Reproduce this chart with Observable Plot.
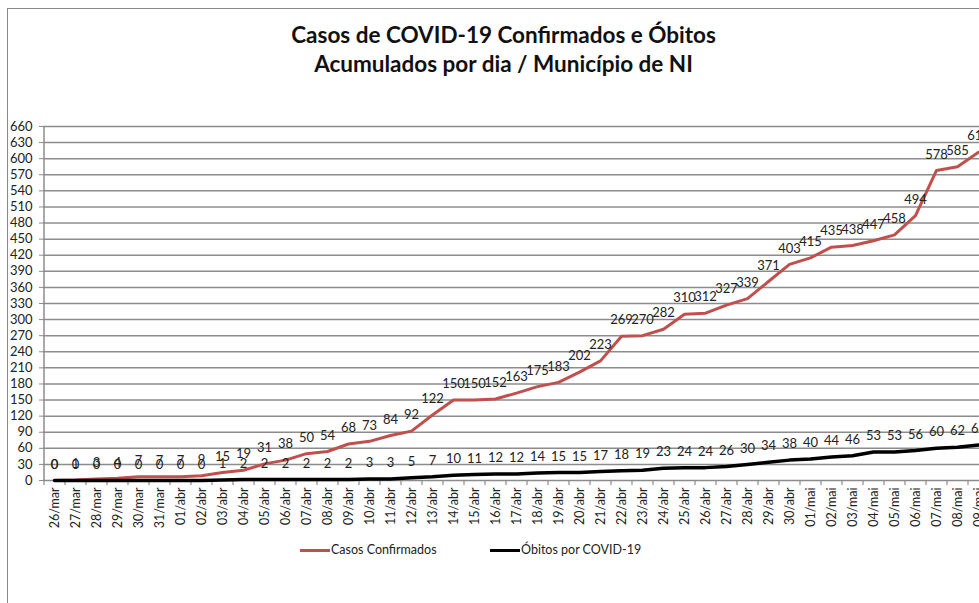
<!DOCTYPE html>
<html>
<head>
<meta charset="utf-8">
<script src="https://cdn.jsdelivr.net/npm/d3@7"></script>
<script src="https://cdn.jsdelivr.net/npm/@observablehq/plot@0.6"></script>
<style>
  html, body { margin: 0; padding: 0; background: #fff; overflow: hidden; }
  #wrap { position: relative; width: 979px; height: 603px; overflow: hidden; font-family: Lato, "Open Sans", sans-serif; }
  #border { position: absolute; left: 7px; top: 8px; width: 1200px; height: 800px; border-left: 1px solid #8a8a8a; border-top: 1px solid #8a8a8a; }
  #title { position: relative; height: 100px; box-sizing: border-box; padding-top: 20px; padding-left: 28px; text-align: center; font-weight: bold; font-size: 22.5px; line-height: 29px; color: #111; }
  #chart { position: relative; height: 440px; width: 990px; }
  #chart svg { max-width: none !important; }
  #legend { position: relative; height: 24px; font-size: 12.5px; color: #222; line-height: 20px; }
  .item { position: absolute; top: 0; display: flex; align-items: center; height: 20px; }
  .sw { display: inline-block; width: 30px; height: 3px; margin-right: 1px; }
</style>
</head>
<body>
<div id="wrap">
  <div id="border"></div>
  <div id="title">Casos de COVID-19 Confirmados e Óbitos<br>Acumulados por dia / Município de NI</div>
  <div id="chart"></div>
  <div id="legend"></div>
</div>
<script>
const dates = [
  "26/mar","27/mar","28/mar","29/mar","30/mar","31/mar",
  "01/abr","02/abr","03/abr","04/abr","05/abr","06/abr","07/abr","08/abr","09/abr","10/abr",
  "11/abr","12/abr","13/abr","14/abr","15/abr","16/abr","17/abr","18/abr","19/abr","20/abr",
  "21/abr","22/abr","23/abr","24/abr","25/abr","26/abr","27/abr","28/abr","29/abr","30/abr",
  "01/mai","02/mai","03/mai","04/mai","05/mai","06/mai","07/mai","08/mai","09/mai"
];
const casos = [0,1,3,4,7,7,7,9,15,19,31,38,50,54,68,73,84,92,122,150,150,152,163,175,183,202,223,269,270,282,310,312,327,339,371,403,415,435,438,447,458,494,578,585,612];
const obitos = [0,0,0,0,0,0,0,0,1,2,2,2,2,2,2,3,3,5,7,10,11,12,12,14,15,15,17,18,19,23,24,24,26,30,34,38,40,44,46,53,53,56,60,62,66];
const yTicks = d3.range(0, 661, 30);
const seriesNames = ["Casos Confirmados", "Óbitos por COVID-19"];
const seriesColors = ["#C0504D", "#000000"];

const rows = [];
dates.forEach((d, i) => {
  rows.push({date: d, value: casos[i], serie: seriesNames[0]});
  rows.push({date: d, value: obitos[i], serie: seriesNames[1]});
});
const casosRows = rows.filter(r => r.serie === seriesNames[0]);
const obitosRows = rows.filter(r => r.serie === seriesNames[1]);

const plot = Plot.plot({
  width: 990,
  height: 440,
  marginLeft: 43,
  marginRight: 2,
  marginTop: 26,
  marginBottom: 60,
  style: {fontFamily: "Lato, 'Open Sans', sans-serif", background: "transparent", overflow: "visible", maxWidth: "none"},
  x: {type: "point", domain: dates, padding: 0.5, label: null},
  y: {domain: [0, 660], label: null},
  marks: [
    Plot.ruleY(yTicks, {stroke: "#8c8c8c", strokeWidth: 1.5}),
    Plot.ruleX([dates[0]], {dx: -10.5, y1: 0, y2: 660, stroke: "#8c8c8c", strokeWidth: 1.5}),
    Plot.ruleX(dates, {x: d => d, y1: 0, y2: 0, dx: -10.5, insetBottom: -5, stroke: "#8c8c8c", strokeWidth: 1.2}),
    Plot.axisY({ticks: yTicks, tickSize: 4, tickPadding: 7, fontSize: 13, stroke: "#8c8c8c", fill: "#222", tickFormat: d => d, label: null}),
    Plot.axisX({tickSize: 0, tickPadding: 7, tickRotate: -90, fontSize: 12.5, fill: "#222", label: null}),
    Plot.line(casosRows, {x: "date", y: "value", stroke: seriesColors[0], strokeWidth: 3}),
    Plot.line(obitosRows, {x: "date", y: "value", stroke: seriesColors[1], strokeWidth: 3.5}),
    Plot.text(casosRows, {x: "date", y: "value", text: d => String(d.value), dy: -16, fontSize: 13, fill: "#222"}),
    Plot.text(obitosRows, {x: "date", y: "value", text: d => String(d.value), dy: -16, fontSize: 13, fill: "#222"})
  ]
});
document.getElementById("chart").appendChild(plot);

const legend = document.getElementById("legend");
const lefts = [300, 490];
seriesNames.forEach((name, i) => {
  const it = document.createElement("div");
  it.className = "item";
  it.style.left = lefts[i] + "px";
  it.innerHTML = `<span class="sw" style="background:${seriesColors[i]}"></span><span>${name}</span>`;
  legend.appendChild(it);
});
</script>
</body>
</html>
